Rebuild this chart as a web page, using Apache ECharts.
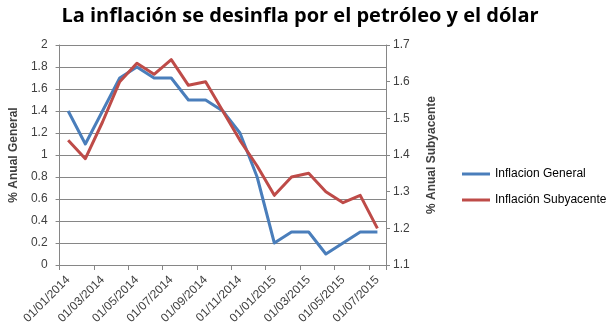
<!DOCTYPE html>
<html>
<head>
<meta charset="utf-8">
<script src="https://cdn.jsdelivr.net/npm/echarts@6/dist/echarts.min.js"></script>
<style>
  html, body { margin: 0; padding: 0; background: #fff; }
  #chart { width: 611px; height: 336px; }
</style>
</head>
<body>
<div id="chart"></div>
<script>
// Monthly readings, Jan 2014 – Jul 2015
const months = [
  '01/01/2014', '01/02/2014', '01/03/2014', '01/04/2014', '01/05/2014',
  '01/06/2014', '01/07/2014', '01/08/2014', '01/09/2014', '01/10/2014',
  '01/11/2014', '01/12/2014', '01/01/2015', '01/02/2015', '01/03/2015',
  '01/04/2015', '01/05/2015', '01/06/2015', '01/07/2015'
];
// Headline inflation (left axis)
const inflacionGeneral = [1.4, 1.1, 1.4, 1.7, 1.8, 1.7, 1.7, 1.5, 1.5, 1.4, 1.2, 0.8, 0.2, 0.3, 0.3, 0.1, 0.2, 0.3, 0.3];
// Core inflation (right axis)
const inflacionSubyacente = [1.44, 1.39, 1.49, 1.6, 1.65, 1.62, 1.66, 1.59, 1.6, 1.52, 1.44, 1.37, 1.29, 1.34, 1.35, 1.3, 1.27, 1.29, 1.2];

const leftTicks = { min: 0, max: 2, interval: 0.2 };
const rightTicks = { min: 1.1, max: 1.7, interval: 0.1 };

const FONT = 'Liberation Sans';
const TEXT = '#404040';
const GRID_LINE = '#868686';

const chart = echarts.init(document.getElementById('chart'), null, { renderer: 'canvas' });

chart.setOption({
  animation: false,
  backgroundColor: '#ffffff',
  textStyle: { fontFamily: FONT },
  title: {
    text: 'La inflación se desinfla por el petróleo y el dólar',
    left: 295,
    top: 1,
    textAlign: 'center',
    textStyle: { fontFamily: 'Open Sans', fontWeight: 'bold', fontSize: 20, color: '#000' }
  },
  legend: {
    orient: 'vertical',
    left: 457,
    top: 163,
    itemWidth: 28,
    itemHeight: 3,
    itemGap: 14,
    icon: 'rect',
    textStyle: { fontFamily: FONT, fontSize: 12, color: '#000' },
    data: ['Inflacion General', 'Inflación Subyacente']
  },
  grid: { left: 54, right: 225, top: 45, bottom: 71, containLabel: false },
  xAxis: {
    type: 'category',
    data: months,
    boundaryGap: true,
    axisLine: { lineStyle: { color: GRID_LINE, width: 1 } },
    axisTick: { show: true, interval: 1, length: 5, lineStyle: { color: GRID_LINE } },
    axisLabel: {
      interval: 1,
      rotate: 45,
      margin: 13,
      fontSize: 12,
      color: TEXT,
      fontFamily: FONT
    },
    splitLine: { show: false }
  },
  yAxis: [
    {
      type: 'value',
      position: 'left',
      min: leftTicks.min,
      max: leftTicks.max,
      interval: leftTicks.interval,
      name: '% Anual General',
      nameLocation: 'middle',
      nameRotate: 90,
      nameGap: 36,
      nameTextStyle: { fontFamily: FONT, fontWeight: 'bold', fontSize: 12, color: TEXT },
      axisLine: { show: true, lineStyle: { color: GRID_LINE } },
      axisTick: { show: true, length: 4, lineStyle: { color: GRID_LINE } },
      axisLabel: { margin: 12, fontSize: 12, color: TEXT, fontFamily: FONT },
      splitLine: { show: true, lineStyle: { color: GRID_LINE, width: 1 } }
    },
    {
      type: 'value',
      position: 'right',
      min: rightTicks.min,
      max: rightTicks.max,
      interval: rightTicks.interval,
      name: '% Anual Subyacente',
      nameLocation: 'middle',
      nameRotate: 90,
      nameGap: 40,
      nameTextStyle: { fontFamily: FONT, fontWeight: 'bold', fontSize: 12, color: TEXT },
      axisLine: { show: true, lineStyle: { color: GRID_LINE } },
      axisTick: { show: true, length: 4, lineStyle: { color: GRID_LINE } },
      axisLabel: {
        margin: 7,
        fontSize: 12,
        color: TEXT,
        fontFamily: FONT,
        formatter: v => (Math.round(v * 10) / 10).toFixed(1)
      },
      splitLine: { show: false }
    }
  ],
  series: [
    {
      name: 'Inflacion General',
      type: 'line',
      yAxisIndex: 0,
      data: inflacionGeneral,
      showSymbol: false,
      symbol: 'none',
      color: '#4A7EBB',
      lineStyle: { width: 3, color: '#4A7EBB', join: 'round' }
    },
    {
      name: 'Inflación Subyacente',
      type: 'line',
      yAxisIndex: 1,
      data: inflacionSubyacente,
      showSymbol: false,
      symbol: 'none',
      color: '#BE4B48',
      lineStyle: { width: 3, color: '#BE4B48', join: 'round' }
    }
  ]
});
</script>
</body>
</html>
